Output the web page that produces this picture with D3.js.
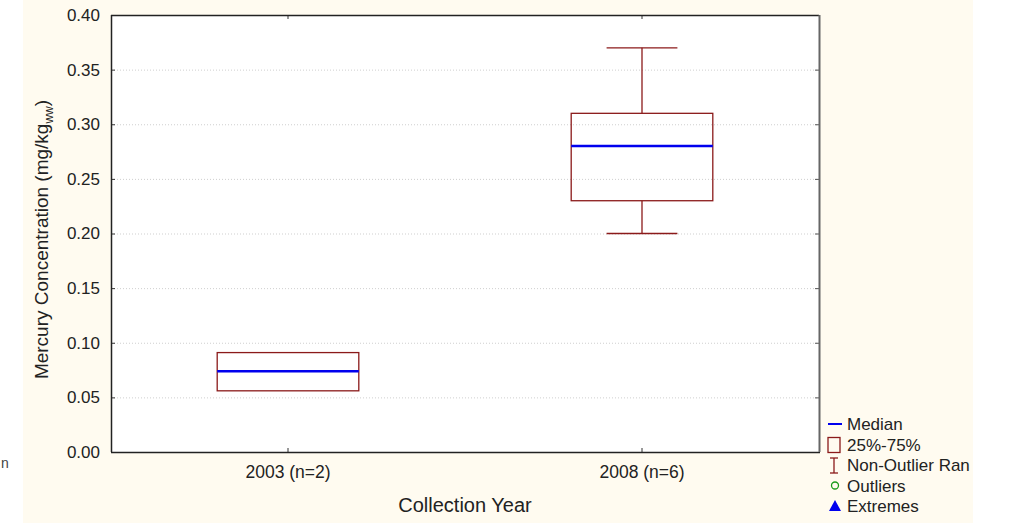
<!DOCTYPE html>
<html><head><meta charset="utf-8">
<script src="https://cdn.jsdelivr.net/npm/d3@7"></script>
<style>body{margin:0;background:#fff;}svg{display:block;font-family:"Liberation Sans",Arial,sans-serif;}</style>
</head><body><svg id="c" width="1010" height="523"></svg>
<script>
const categories = ["2003 (n=2)", "2008 (n=6)"];
const q1 = [0.056, 0.23];
const median = [0.074, 0.28];
const q3 = [0.091, 0.31];
const whiskerLow = [0.056, 0.20];
const whiskerHigh = [0.091, 0.37];
const yTicks = [0, 0.05, 0.10, 0.15, 0.20, 0.25, 0.30, 0.35, 0.40];
const legendLabels = ["Median", "25%-75%", "Non-Outlier Ran", "Outliers", "Extremes"];

const svg = d3.select("#c");
svg.append("rect").attr("x", 23).attr("y", 0).attr("width", 950).attr("height", 523).attr("fill", "#fffbf0");
svg.append("defs").append("clipPath").attr("id", "cl").append("rect").attr("x", 23).attr("y", 0).attr("width", 950).attr("height", 523);

const L = 111, R = 819, T = 15, B = 452;
const y = d3.scaleLinear().domain([0, 0.4]).range([B, T]);
const x = d3.scaleBand().domain(categories).range([L, R]).padding(0);

svg.append("rect").attr("x", L).attr("y", T).attr("width", R - L).attr("height", B - T).attr("fill", "#fff");

// grid
svg.append("g").selectAll("line").data(yTicks.filter(t => t > 0 && t < 0.4)).join("line")
  .attr("x1", L).attr("x2", R).attr("y1", d => y(d) + 0.5).attr("y2", d => y(d) + 0.5)
  .attr("stroke", "#cfcfcf").attr("stroke-dasharray", "1,2");

// y axis
const ya = svg.append("g").attr("transform", `translate(${L},0)`)
  .call(d3.axisLeft(y).tickValues(yTicks).tickFormat(d3.format(".2f")).tickSize(-4).tickPadding(11));
ya.select(".domain").remove();
ya.selectAll("line").attr("stroke", "#333");
ya.selectAll("text").attr("font-size", 17).attr("fill", "#222").attr("font-family", "Liberation Sans, Arial, sans-serif");

// right ticks
svg.append("g").attr("transform", `translate(${R},0)`)
  .call(d3.axisRight(y).tickValues(yTicks).tickSize(-4).tickFormat(""))
  .call(g => { g.select(".domain").remove(); g.selectAll("line").attr("stroke", "#555"); });

// x axis
const xa = svg.append("g").attr("transform", `translate(0,${B})`)
  .call(d3.axisBottom(x).tickSize(-4).tickPadding(14));
xa.select(".domain").remove();
xa.selectAll("line").attr("stroke", "#333");
xa.selectAll("text").attr("font-size", 17.5).attr("fill", "#222").attr("font-family", "Liberation Sans, Arial, sans-serif");
svg.append("g").attr("transform", `translate(0,${T})`)
  .call(d3.axisTop(x).tickSize(-4).tickFormat(""))
  .call(g => { g.select(".domain").remove(); g.selectAll("line").attr("stroke", "#333"); });

// frame
svg.append("line").attr("x1", L).attr("x2", R).attr("y1", T + 0.5).attr("y2", T + 0.5).attr("stroke", "#222").attr("stroke-width", 1.5);
svg.append("line").attr("x1", L + 0.5).attr("x2", L + 0.5).attr("y1", T).attr("y2", B).attr("stroke", "#222").attr("stroke-width", 1.5);
svg.append("line").attr("x1", L).attr("x2", R + 1).attr("y1", B + 0.5).attr("y2", B + 0.5).attr("stroke", "#222").attr("stroke-width", 1.5);
svg.append("line").attr("x1", R + 0.5).attr("x2", R + 0.5).attr("y1", T).attr("y2", B).attr("stroke", "#666").attr("stroke-width", 2);

// boxes
const bw = x.bandwidth() * 0.4;
const boxColor = "#8b1a1a";
const g = svg.append("g");
categories.forEach((c, i) => {
  const cx = x(c) + x.bandwidth() / 2;
  if (whiskerHigh[i] > q3[i]) {
    g.append("line").attr("x1", cx).attr("x2", cx).attr("y1", y(whiskerHigh[i])).attr("y2", y(q3[i])).attr("stroke", boxColor).attr("stroke-width", 1.3);
    g.append("line").attr("x1", cx - bw / 4).attr("x2", cx + bw / 4).attr("y1", y(whiskerHigh[i])).attr("y2", y(whiskerHigh[i])).attr("stroke", boxColor).attr("stroke-width", 1.3);
  }
  if (whiskerLow[i] < q1[i]) {
    g.append("line").attr("x1", cx).attr("x2", cx).attr("y1", y(q1[i])).attr("y2", y(whiskerLow[i])).attr("stroke", boxColor).attr("stroke-width", 1.3);
    g.append("line").attr("x1", cx - bw / 4).attr("x2", cx + bw / 4).attr("y1", y(whiskerLow[i])).attr("y2", y(whiskerLow[i])).attr("stroke", boxColor).attr("stroke-width", 1.3);
  }
  g.append("rect").attr("x", cx - bw / 2).attr("y", y(q3[i])).attr("width", bw).attr("height", y(q1[i]) - y(q3[i]))
    .attr("fill", "none").attr("stroke", boxColor).attr("stroke-width", 1.3);
  g.append("line").attr("x1", cx - bw / 2).attr("x2", cx + bw / 2).attr("y1", y(median[i])).attr("y2", y(median[i]))
    .attr("stroke", "#0000ee").attr("stroke-width", 2.5);
});

// titles
svg.append("text").attr("transform", `translate(48,${(T + B) / 2 + 6}) rotate(-90)`).attr("text-anchor", "middle")
  .attr("font-size", 19).attr("fill", "#222")
  .html('Mercury Concentration (mg/kg<tspan font-size="12" dy="5">ww</tspan><tspan dy="-5">)</tspan>');
svg.append("text").attr("x", (L + R) / 2).attr("y", 512).attr("text-anchor", "middle").attr("font-size", 20).attr("fill", "#222").text("Collection Year");

// legend
const lg = svg.append("g").attr("clip-path", "url(#cl)");
const ly0 = 424, ldy = 20.5;
legendLabels.forEach((t, i) => {
  lg.append("text").attr("x", 847).attr("y", ly0 + i * ldy + 6).attr("font-size", 17).attr("fill", "#222").text(t);
});
lg.append("line").attr("x1", 828).attr("x2", 842).attr("y1", ly0).attr("y2", ly0).attr("stroke", "#0000ee").attr("stroke-width", 2);
lg.append("rect").attr("x", 828).attr("y", ly0 + ldy - 7).attr("width", 12).attr("height", 15).attr("fill", "none").attr("stroke", boxColor).attr("stroke-width", 1.3);
const ny = ly0 + 2 * ldy;
lg.append("line").attr("x1", 834).attr("x2", 834).attr("y1", ny - 7).attr("y2", ny + 8).attr("stroke", boxColor).attr("stroke-width", 1.3);
lg.append("line").attr("x1", 830).attr("x2", 838).attr("y1", ny - 7).attr("y2", ny - 7).attr("stroke", boxColor).attr("stroke-width", 1.3);
lg.append("line").attr("x1", 830).attr("x2", 838).attr("y1", ny + 8).attr("y2", ny + 8).attr("stroke", boxColor).attr("stroke-width", 1.3);
lg.append("circle").attr("cx", 835).attr("cy", ly0 + 3 * ldy).attr("r", 3.5).attr("fill", "none").attr("stroke", "#1a9a1a").attr("stroke-width", 1.3);
const ty = ly0 + 4 * ldy;
lg.append("path").attr("d", `M835,${ty - 6}L841,${ty + 5}L829,${ty + 5}Z`).attr("fill", "#0000ee");

svg.append("text").attr("x", 1).attr("y", 468).attr("font-size", 14).attr("fill", "#444").text("n");
</script></body></html>
